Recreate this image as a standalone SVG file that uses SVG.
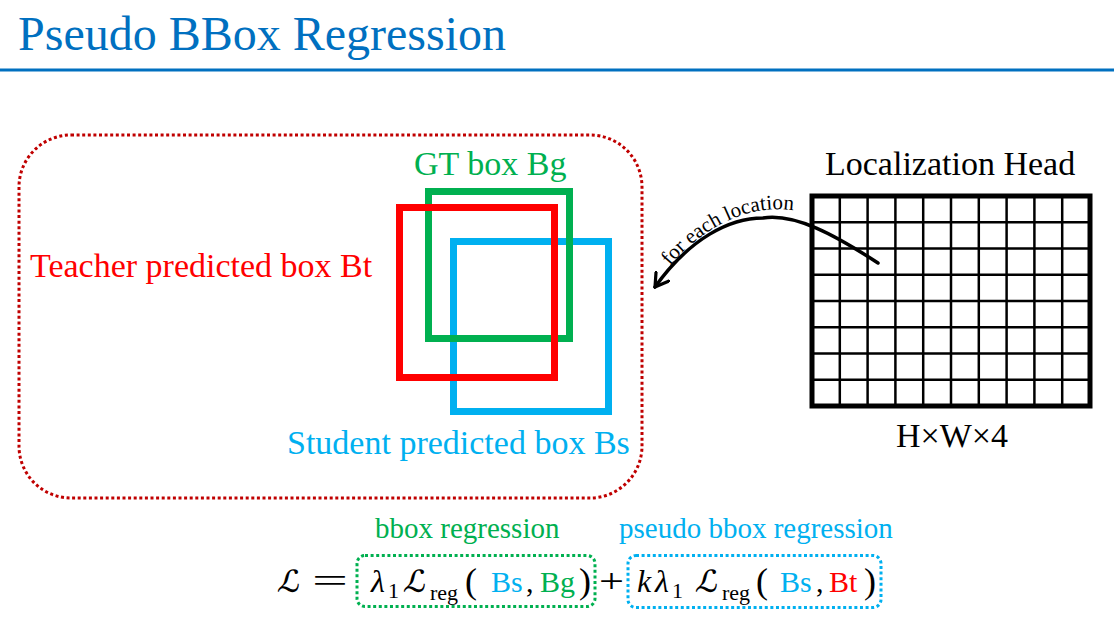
<svg xmlns="http://www.w3.org/2000/svg" width="1114" height="624" viewBox="0 0 1114 624">
<defs>
<style>
svg text, g text, text, textPath, tspan { font-family: 'Liberation Serif', serif !important; }
text.m { font-family: 'STIX Two Math', 'Latin Modern Math', 'DejaVu Serif', serif !important; }
</style>
<marker id="ah" viewBox="-14 -9 16 18" refX="0" refY="0" markerWidth="16" markerHeight="18" markerUnits="userSpaceOnUse" orient="auto">
<path d="M -13 -8 L 0 0 L -13 8" fill="none" stroke="#000" stroke-width="3.2" stroke-linecap="round"/>
</marker>
<path id="tp" d="M 670 266 C 695 236, 730 214, 765 210 C 785 208, 800 210, 812 216"/>
</defs>
<rect width="1114" height="624" fill="#fff"/>

<g id="title">
<text x="18" y="50" font-size="48" fill="#0070C0" font-family="Liberation Serif" style="font-family:'Liberation Serif' !important">Pseudo BBox Regression</text>
<line x1="0" y1="70" x2="1114" y2="70" stroke="#0070C0" stroke-width="3"/>
</g>

<g id="region">
<rect x="19" y="135" width="623" height="363" rx="52" ry="52" fill="none" stroke="#C00000" stroke-width="3" stroke-dasharray="3 2.6"/>
</g>

<g id="student-box">
<rect x="453.5" y="241.5" width="155" height="170" fill="none" stroke-width="7" stroke="#00B0F0"/>
</g>
<g id="gt-box">
<rect x="428.5" y="191.5" width="141" height="147" fill="none" stroke-width="7" stroke="#00B050"/>
<text x="414" y="175" font-size="34" fill="#00B050" font-family="Liberation Serif" style="font-family:'Liberation Serif' !important">GT box Bg</text>
</g>
<g id="teacher-box">
<rect x="399.5" y="207.5" width="155" height="170" fill="none" stroke-width="7" stroke="#FF0000"/>
<text x="30" y="277" font-size="34" fill="#FF0000" font-family="Liberation Serif" style="font-family:'Liberation Serif' !important">Teacher predicted box Bt</text>
</g>
<g id="student-label">
<text x="287" y="454" font-size="34" fill="#00B0F0" font-family="Liberation Serif" style="font-family:'Liberation Serif' !important">Student predicted box Bs</text>
</g>

<g id="localization-head">
<text x="825" y="175" font-size="34" fill="#000" font-family="Liberation Serif" style="font-family:'Liberation Serif' !important">Localization Head</text>
<g stroke="#000" stroke-width="2.5">
<line x1="839.8" y1="196" x2="839.8" y2="406"/>
<line x1="867.6" y1="196" x2="867.6" y2="406"/>
<line x1="895.4" y1="196" x2="895.4" y2="406"/>
<line x1="923.2" y1="196" x2="923.2" y2="406"/>
<line x1="951" y1="196" x2="951" y2="406"/>
<line x1="978.8" y1="196" x2="978.8" y2="406"/>
<line x1="1006.6" y1="196" x2="1006.6" y2="406"/>
<line x1="1034.4" y1="196" x2="1034.4" y2="406"/>
<line x1="1062.2" y1="196" x2="1062.2" y2="406"/>
<line x1="812" y1="222.25" x2="1090" y2="222.25"/>
<line x1="812" y1="248.5" x2="1090" y2="248.5"/>
<line x1="812" y1="274.75" x2="1090" y2="274.75"/>
<line x1="812" y1="301" x2="1090" y2="301"/>
<line x1="812" y1="327.25" x2="1090" y2="327.25"/>
<line x1="812" y1="353.5" x2="1090" y2="353.5"/>
<line x1="812" y1="379.75" x2="1090" y2="379.75"/>
</g>
<rect x="812" y="196" width="278" height="210" fill="none" stroke="#000" stroke-width="5"/>
<text x="952" y="447" font-size="34" fill="#000" text-anchor="middle" font-family="Liberation Serif" style="font-family:'Liberation Serif' !important">H×W×4</text>
</g>

<g id="connectors">
<path d="M 878 263 C 835 235, 795 213, 763 218 C 730 218, 690 238, 655 287" fill="none" stroke="#000" stroke-width="3.5" stroke-linecap="round" marker-end="url(#ah)"/>
<text font-size="21" fill="#000" font-family="Liberation Serif" style="font-family:'Liberation Serif' !important"><textPath href="#tp">for each location</textPath></text>
</g>

<g id="formula" font-family="Liberation Serif">
<text x="375" y="538" fill="#00B050" font-size="29" style="font-family:'Liberation Serif' !important">bbox regression</text>
<text x="619" y="538" fill="#00B0F0" font-size="29" style="font-family:'Liberation Serif' !important">pseudo bbox regression</text>
<rect x="357" y="555.5" width="238" height="51" rx="8" fill="none" stroke="#00B050" stroke-width="3" stroke-dasharray="3 2.6"/>
<rect x="628" y="555.5" width="253" height="52" rx="8" fill="none" stroke="#00B0F0" stroke-width="3" stroke-dasharray="3 2.6"/>
<text class="m" x="278" y="592" fill="#000" font-size="34">ℒ</text>
<text x="312" y="592" fill="#000" font-size="34" textLength="36" lengthAdjust="spacingAndGlyphs">=</text>
<text x="371" y="592" fill="#000" font-size="32" font-style="italic">λ</text>
<text x="388" y="598" fill="#000" font-size="22">1</text>
<text class="m" x="404" y="592" fill="#000" font-size="34">ℒ</text>
<text x="430" y="600" fill="#000" font-size="22">reg</text>
<text x="465" y="593" fill="#000" font-size="36">(</text>
<text x="491" y="592" fill="#00B0F0" font-size="30">Bs</text>
<text x="526" y="592" fill="#000" font-size="30">,</text>
<text x="540" y="592" fill="#00B050" font-size="30">Bg</text>
<text x="579" y="593" fill="#000" font-size="36">)</text>
<text x="599" y="592" fill="#000" font-size="34" textLength="25" lengthAdjust="spacingAndGlyphs">+</text>
<text x="637" y="592" fill="#000" font-size="32" font-style="italic">k</text>
<text x="655" y="592" fill="#000" font-size="32" font-style="italic">λ</text>
<text x="672" y="598" fill="#000" font-size="22">1</text>
<text class="m" x="696" y="592" fill="#000" font-size="34">ℒ</text>
<text x="722" y="600" fill="#000" font-size="22">reg</text>
<text x="756" y="593" fill="#000" font-size="36">(</text>
<text x="780" y="592" fill="#00B0F0" font-size="30">Bs</text>
<text x="816" y="592" fill="#000" font-size="30">,</text>
<text x="829" y="592" fill="#FF0000" font-size="30">Bt</text>
<text x="864" y="593" fill="#000" font-size="36">)</text>
</g>
</svg>
